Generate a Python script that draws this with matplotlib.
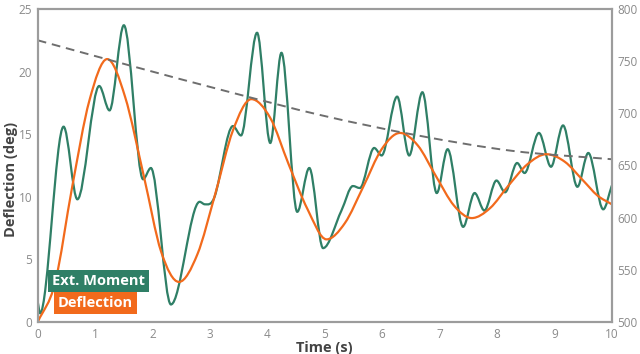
import numpy as np
import matplotlib
matplotlib.use("Agg")
import matplotlib.pyplot as plt
from matplotlib.path import Path
from matplotlib.patches import PathPatch

# Ext. Moment (read in left-axis units)
moment_t = [0.00, 0.04, 0.45, 0.69, 1.07, 1.25, 1.50, 1.835, 1.97, 2.32,
            2.82, 2.91, 3.08, 3.40, 3.54, 3.82, 4.05, 4.245, 4.52, 4.73,
            4.97, 5.29, 5.49, 5.61, 5.86, 5.99, 6.26, 6.47, 6.70, 6.95,
            7.14, 7.41, 7.61, 7.78, 7.99, 8.14, 8.35, 8.48, 8.73, 8.94,
            9.15, 9.40, 9.59, 9.85, 10.0]
moment = [1.6, 0.7, 15.6, 9.8, 18.85, 16.9, 23.7, 11.4, 12.3, 1.4,
          9.6, 9.4, 10.0, 15.65, 14.9, 23.1, 14.3, 21.5, 8.8, 12.3,
          5.9, 8.9, 10.86, 10.7, 13.9, 13.3, 18.0, 13.3, 18.35, 10.3,
          13.8, 7.6, 10.3, 8.9, 11.3, 10.36, 12.7, 11.9, 15.1, 12.4,
          15.7, 10.8, 13.5, 9.0, 10.9]

# Deflection (deg)
defl_t = [0.00, 0.30, 0.60, 0.90, 1.21, 1.52, 1.85, 2.15, 2.46, 2.78,
          3.09, 3.40, 3.72, 4.05, 4.37, 4.70, 5.03, 5.35, 5.67, 5.99,
          6.31, 6.62, 6.93, 7.25, 7.56, 7.88, 8.20, 8.53, 8.86, 9.18,
          9.50, 9.75, 10.0]
deflection = [0.0, 3.1, 10.8, 17.7, 21.0, 18.0, 11.6, 5.6, 3.2, 5.4,
              10.2, 15.3, 17.8, 16.3, 12.6, 9.0, 6.6, 7.9, 10.8, 13.8,
              15.1, 14.1, 11.7, 9.3, 8.3, 9.1, 10.9, 12.6, 13.4, 12.8,
              11.3, 10.1, 9.4]

# dashed trend (right axis)
trend_t = [0.0, 1.66, 3.3, 4.95, 6.6, 8.27, 10.0]
trend = [770, 745, 721, 698, 679, 664, 656]

green = "#2f7f66"
orange = "#f26a1c"
spine_c = "#9c9c9c"
tick_c = "#8a8a8a"
label_c = "#444444"


def spline_path(x, y):
    # smooth curve through the points, flat at local peaks/troughs
    x = np.asarray(x, float)
    y = np.asarray(y, float)
    n = len(x)
    m = np.zeros(n)
    for i in range(n):
        if i == 0:
            m[i] = (y[1] - y[0]) / (x[1] - x[0])
        elif i == n - 1:
            m[i] = (y[-1] - y[-2]) / (x[-1] - x[-2])
        elif (y[i] - y[i - 1]) * (y[i + 1] - y[i]) <= 0:
            m[i] = 0.0
        else:
            m[i] = (y[i + 1] - y[i - 1]) / (x[i + 1] - x[i - 1])
    verts = [(x[0], y[0])]
    codes = [Path.MOVETO]
    for i in range(n - 1):
        h = x[i + 1] - x[i]
        verts += [(x[i] + h / 3, y[i] + m[i] * h / 3),
                  (x[i + 1] - h / 3, y[i + 1] - m[i + 1] * h / 3),
                  (x[i + 1], y[i + 1])]
        codes += [Path.CURVE4] * 3
    return Path(verts, codes)


plt.rcParams["font.family"] = ["Open Sans", "DejaVu Sans"]

fig = plt.figure(figsize=(6.4, 3.54), dpi=100)
ax = fig.add_axes([0.059, 0.0904, 0.897, 0.8842])
ax2 = ax.twinx()

ax.add_patch(PathPatch(spline_path(defl_t, deflection), fill=False,
                       edgecolor=orange, lw=1.6, zorder=3))
ax.add_patch(PathPatch(spline_path(moment_t, moment), fill=False,
                       edgecolor=green, lw=1.6, zorder=2))
ax2.add_patch(PathPatch(spline_path(trend_t, trend), fill=False,
                        edgecolor="#6e6e6e", lw=1.4, linestyle=(0, (4.5, 3))))

ax.set_xlim(0, 10)
ax.set_ylim(0, 25)
ax2.set_ylim(500, 800)
ax.set_xticks(range(0, 11))
ax.set_yticks(range(0, 26, 5))
ax2.set_yticks(range(500, 801, 50))

for a in (ax, ax2):
    for s in a.spines.values():
        s.set_color(spine_c)
        s.set_linewidth(1.5)
    a.tick_params(length=0, labelsize=8.5, colors=tick_c)
ax.tick_params(axis="y", pad=4)
ax.tick_params(axis="x", pad=4)
ax2.tick_params(axis="y", pad=4)

ax.set_xlabel("Time (s)", fontsize=10.5, fontweight="bold", color=label_c, labelpad=0)
ax.set_ylabel("Deflection (deg)", fontsize=10.5, fontweight="bold", color=label_c)
ax.yaxis.set_label_coords(-0.034, 0.455)

ax.text(0.025, 0.131, "Ext. Moment", transform=ax.transAxes, color="white",
        fontsize=10.5, fontweight="bold", ha="left", va="center", zorder=5,
        bbox=dict(boxstyle="square,pad=0.28", fc=green, ec="none"))
ax.text(0.035, 0.062, "Deflection", transform=ax.transAxes, color="white",
        fontsize=10.5, fontweight="bold", ha="left", va="center", zorder=5,
        bbox=dict(boxstyle="square,pad=0.28", fc=orange, ec="none"))

fig.savefig("out.png", dpi=100)
